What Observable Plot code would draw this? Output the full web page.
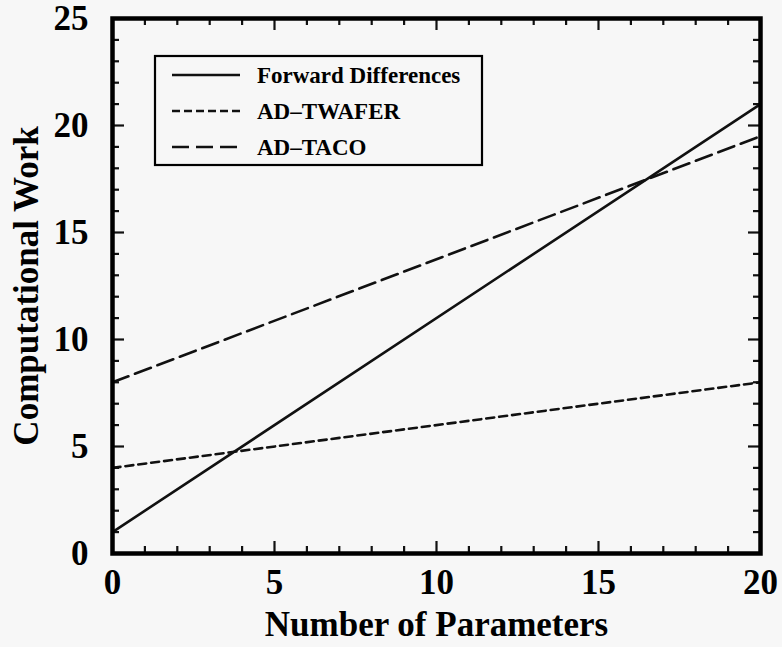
<!DOCTYPE html>
<html><head><meta charset="utf-8">
<script src="https://cdn.jsdelivr.net/npm/d3@7"></script>
<script src="https://cdn.jsdelivr.net/npm/@observablehq/plot@0.6"></script>
<style>html,body{margin:0;padding:0;background:#f7f7f7}</style>
</head><body><div id="chart"></div>
<script>
// ---- data ----
const seriesNames = ["Forward Differences", "AD\u2013TWAFER", "AD\u2013TACO"];
const paramsX = [0, 20];
const forwardDiff = [1, 21];
const adTwafer = [4, 8];
const adTaco = [8, 19.5];
const xTicks = [0, 5, 10, 15, 20];
const yTicks = [0, 5, 10, 15, 20, 25];
const xMinorTicks = [1, 2, 3, 4, 6, 7, 8, 9, 11, 12, 13, 14, 16, 17, 18, 19];
const yMinorTicks = [1, 2, 3, 4, 6, 7, 8, 9, 11, 12, 13, 14, 16, 17, 18, 19, 21, 22, 23, 24];
const xMajorInner = [5, 10, 15];
const yMajorInner = [5, 10, 15, 20];
const xTitle = "Number of Parameters";
const yTitle = "Computational Work";

// ---- layout ----
const W = 782, H = 647;
const mL = 112, mR = 22, mT = 18, mB = 94;
const innerW = W - mL - mR, innerH = H - mT - mB;
const dashes = [null, "8,5", "17,7"];
const legendDashes = [null, "8,4", "17,7"];

const seriesValues = [forwardDiff, adTwafer, adTaco];
const table = [];
seriesNames.forEach((name, i) => {
  paramsX.forEach((x, j) => table.push({series: name, idx: i, x, y: seriesValues[i][j]}));
});

const font = "'Liberation Serif', 'Times New Roman', serif";
const minorLen = 7, majorLen = 12;

const marks = [];
seriesNames.forEach((name, i) => {
  marks.push(Plot.line(table.filter(d => d.idx === i), {
    x: "x", y: "y", stroke: "#111", strokeWidth: 2.6,
    strokeDasharray: dashes[i]
  }));
});
// inward ticks on all four sides
const tickStyle = {stroke: "#111", strokeWidth: 2.2};
for (const [arr, len] of [[xMinorTicks, minorLen], [xMajorInner, majorLen]]) {
  marks.push(Plot.ruleX(arr, {x: d => d, insetTop: innerH - len, ...tickStyle}));
  marks.push(Plot.ruleX(arr, {x: d => d, insetBottom: innerH - len, ...tickStyle}));
}
for (const [arr, len] of [[yMinorTicks, minorLen], [yMajorInner, majorLen]]) {
  marks.push(Plot.ruleY(arr, {y: d => d, insetRight: innerW - len, ...tickStyle}));
  marks.push(Plot.ruleY(arr, {y: d => d, insetLeft: innerW - len, ...tickStyle}));
}
marks.push(Plot.frame({stroke: "#000", strokeWidth: 4.5}));
marks.push(Plot.axisX(xTicks, {tickSize: 0, tickPadding: 16, fontSize: 35, fontWeight: "bold", fontFamily: font, fill: "#000", label: null}));
marks.push(Plot.axisY(yTicks, {tickSize: 0, tickPadding: 24, fontSize: 35, fontWeight: "bold", fontFamily: font, fill: "#000", label: null}));
marks.push(Plot.text([xTitle], {text: d => d, frameAnchor: "bottom", lineAnchor: "middle", textAnchor: "middle", dy: 71, fontSize: 35, fontWeight: "bold", fontFamily: font, fill: "#000"}));
marks.push(Plot.text([yTitle], {text: d => d, frameAnchor: "left", textAnchor: "middle", lineAnchor: "middle", dx: -86, rotate: -90, fontSize: 35, fontWeight: "bold", fontFamily: font, fill: "#000"}));

const chart = Plot.plot({
  width: W, height: H,
  marginLeft: mL, marginRight: mR, marginTop: mT, marginBottom: mB,
  x: {domain: [0, 20], axis: null},
  y: {domain: [0, 25], axis: null},
  style: {background: "#f7f7f7", fontFamily: font, color: "#000", overflow: "visible"},
  marks
});

// ---- legend inside the plot area ----
const svg = d3.select(chart);
const lg = svg.append("g").attr("class", "legend");
lg.append("rect").attr("x", 155).attr("y", 56).attr("width", 327).attr("height", 109)
  .attr("fill", "none").attr("stroke", "#000").attr("stroke-width", 2.2);
seriesNames.forEach((name, i) => {
  const yy = 75 + i * 36;
  lg.append("line").attr("x1", 172).attr("x2", 240).attr("y1", yy).attr("y2", yy)
    .attr("stroke", "#111").attr("stroke-width", 2.6)
    .attr("stroke-dasharray", legendDashes[i]);
  lg.append("text").attr("x", 257).attr("y", yy).attr("dy", "0.35em")
    .attr("text-anchor", "start")
    .attr("font-family", font).attr("font-weight", "bold").attr("font-size", 23)
    .attr("fill", "#000").text(name);
});

document.getElementById("chart").appendChild(chart);
</script>
</body></html>
